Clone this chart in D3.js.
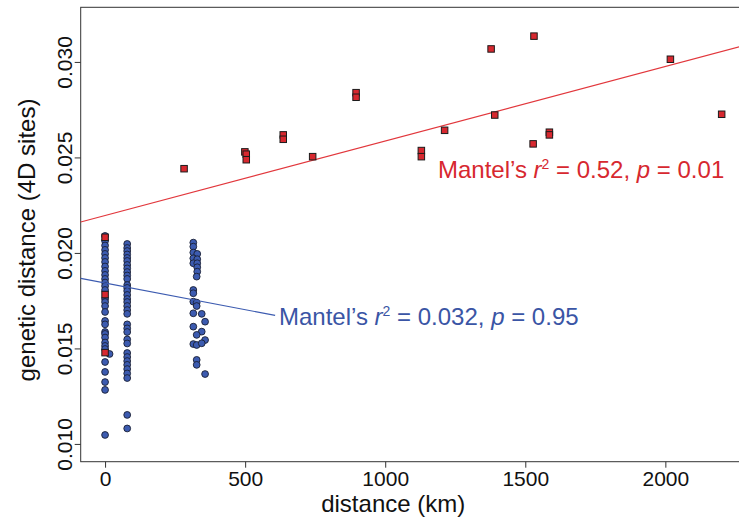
<!DOCTYPE html>
<html>
<head>
<meta charset="utf-8">
<script src="https://cdn.jsdelivr.net/npm/d3@7"></script>
<style>
  html, body { margin: 0; padding: 0; background: #ffffff; }
  svg { display: block; font-family: "Liberation Sans", Arial, Helvetica, sans-serif; }
</style>
</head>
<body>
<svg id="chart" width="739" height="526"></svg>
<script>
// Between-population comparisons (geographic distance vs 4D-site divergence)
const blueDist = [
  0,0,0,0,0,0,0,0,0,0,0,0,0,0,0,0,0,0,0,0,0,0,0,0,0,0,0,0,0,0,0,16,
  79,79,79,79,79,79,79,79,79,79,79,79,79,79,79,79,79,79,79,79,79,79,79,79,79,79,79,79,79,79,79,79,79,79,
  315,315,315,329,315,329,315,329,329,329,327,315,315,315,327,327,345,315,357,315,345,327,357,315,327,345,327,327,357
];
const blueGen = [
  0.02089,0.02063,0.02039,0.02016,0.01995,0.01974,0.01953,0.01929,0.01906,0.01885,0.01864,0.01845,0.01827,0.01806,
  0.01759,0.01743,0.01722,0.01691,0.01644,0.01626,0.01586,0.01576,0.01557,0.01531,0.01513,0.01497,0.01429,0.01377,
  0.01324,0.01283,0.01047,0.01471,
  0.02047,0.02026,0.02010,0.01992,0.01974,0.01958,0.01937,0.01919,0.01900,0.01882,0.01864,0.01832,0.01817,0.01801,
  0.01780,0.01759,0.01743,0.01722,0.01701,0.01681,0.01626,0.01605,0.01586,0.01547,0.01526,0.01476,0.01455,0.01434,
  0.01414,0.01392,0.01369,0.01345,0.01152,0.01081,
  0.02054,0.02033,0.02002,0.01995,0.01972,0.01967,0.01946,0.01946,0.01925,0.01902,0.01876,0.01806,0.01789,0.01745,
  0.01740,0.01722,0.01681,0.01684,0.01640,0.01614,0.01588,0.01571,0.01544,0.01523,0.01518,0.01527,0.01440,0.01414,
  0.01366
];
const redDist = [282,499,504,504,636,636,741,896,896,1129,1129,1212,1378,1531,1391,1586,1586,1528,2018,2201,0,0,0];
const redGen = [0.02441,0.02529,0.02517,0.02488,0.02618,0.02595,0.02504,0.02839,0.02815,0.02536,0.02504,0.02642,
  0.03068,0.03135,0.02722,0.02632,0.02618,0.02571,0.03014,0.02726,0.02082,0.01782,0.01478];

// Fitted regression lines: [intercept, slope per km]
const redFit = [0.02196, 3.90e-6];
const blueFit = [0.018424, -2.79e-6];
const blueFitEnd = 607;

const xTicks = [0, 500, 1000, 1500, 2000];
const yTicks = [0.010, 0.015, 0.020, 0.025, 0.030];
const xDomain = [-87, 2290];
const yDomain = [0.00907, 0.03286];

const redLabel = ["Mantel\u2019s ", "r", "2", " = 0.52, ", "p", " = 0.01"];
const blueLabel = ["Mantel\u2019s ", "r", "2", " = 0.032, ", "p", " = 0.95"];

const RED = "#d7282f", REDLINE = "#e2373c", BLUE = "#3a55a5", BLUEFILL = "#3c5bb0";

const svg = d3.select("#chart");
const plotL = 80.7, plotR = 746.6, plotT = 7.3, plotB = 461.7;
const x = d3.scaleLinear().domain(xDomain).range([plotL, plotR]);
const y = d3.scaleLinear().domain(yDomain).range([plotB, plotT]);

svg.append("rect").attr("width", 739).attr("height", 526).attr("fill", "#fff");

// plot frame
svg.append("rect")
  .attr("x", plotL).attr("y", plotT)
  .attr("width", plotR - plotL).attr("height", plotB - plotT)
  .attr("fill", "none").attr("stroke", "#333").attr("stroke-width", 1);

// axes
const xAxis = svg.append("g").attr("transform", `translate(0,${plotB})`)
  .call(d3.axisBottom(x).tickValues(xTicks).tickSize(6).tickPadding(3).tickFormat(d3.format("d")));
xAxis.select(".domain").remove();
xAxis.selectAll("line").attr("stroke", "#333");
xAxis.selectAll("text").attr("font-size", 21).attr("fill", "#111")
  .attr("font-family", "Liberation Sans, Arial, sans-serif");

const yAxis = svg.append("g").attr("transform", `translate(${plotL},0)`)
  .call(d3.axisLeft(y).tickValues(yTicks).tickSize(6).tickFormat(d3.format(".3f")));
yAxis.select(".domain").remove();
yAxis.selectAll("line").attr("stroke", "#333");
yAxis.selectAll("text")
  .attr("font-size", 21).attr("fill", "#111")
  .attr("font-family", "Liberation Sans, Arial, sans-serif")
  .attr("x", null).attr("dy", null)
  .attr("text-anchor", "middle")
  .attr("transform", "translate(-9,0) rotate(-90)")
  .attr("y", 0);

// axis titles
svg.append("text")
  .attr("x", (x(0) + x(2000)) / 2 + 8).attr("y", 512)
  .attr("text-anchor", "middle").attr("font-size", 24).attr("fill", "#111")
  .text("distance (km)");
svg.append("text")
  .attr("transform", "translate(35,240) rotate(-90)")
  .attr("text-anchor", "middle").attr("font-size", 24).attr("fill", "#111")
  .text("genetic distance (4D sites)");

// points
const blue = blueDist.map((d, i) => [d, blueGen[i]]);
const red = redDist.map((d, i) => [d, redGen[i]]);

svg.append("g").selectAll("circle").data(blue).join("circle")
  .attr("cx", d => x(d[0])).attr("cy", d => y(d[1])).attr("r", 3.4)
  .attr("fill", BLUEFILL).attr("stroke", "#1a1f33").attr("stroke-width", 0.9);

// fitted lines
const redLine = [xDomain[0], xDomain[1]].map(d => [d, redFit[0] + redFit[1] * d]);
const blueLine = [xDomain[0], blueFitEnd].map(d => [d, blueFit[0] + blueFit[1] * d]);
const line = d3.line().x(d => x(d[0])).y(d => y(d[1]));
svg.append("path").attr("d", line(blueLine)).attr("stroke", BLUEFILL).attr("stroke-width", 1.1).attr("fill", "none");
svg.append("path").attr("d", line(redLine)).attr("stroke", REDLINE).attr("stroke-width", 1.1).attr("fill", "none");

const sq = 6.5;
svg.append("g").selectAll("rect").data(red).join("rect")
  .attr("x", d => x(d[0]) - sq / 2).attr("y", d => y(d[1]) - sq / 2)
  .attr("width", sq).attr("height", sq)
  .attr("fill", RED).attr("stroke", "#1b1b1b").attr("stroke-width", 1);

// annotations
function annot(parts, px, py, color) {
  const t = svg.append("text").attr("x", px).attr("y", py).attr("font-size", 24).attr("fill", color);
  t.append("tspan").text(parts[0]);
  t.append("tspan").attr("font-style", "italic").text(parts[1]);
  t.append("tspan").attr("font-size", 14).attr("dy", -9).text(parts[2]);
  t.append("tspan").attr("dy", 9).text(parts[3]);
  t.append("tspan").attr("font-style", "italic").text(parts[4]);
  t.append("tspan").text(parts[5]);
}
annot(redLabel, 438, 178, RED);
annot(blueLabel, 279, 325, BLUE);
</script>
</body>
</html>
